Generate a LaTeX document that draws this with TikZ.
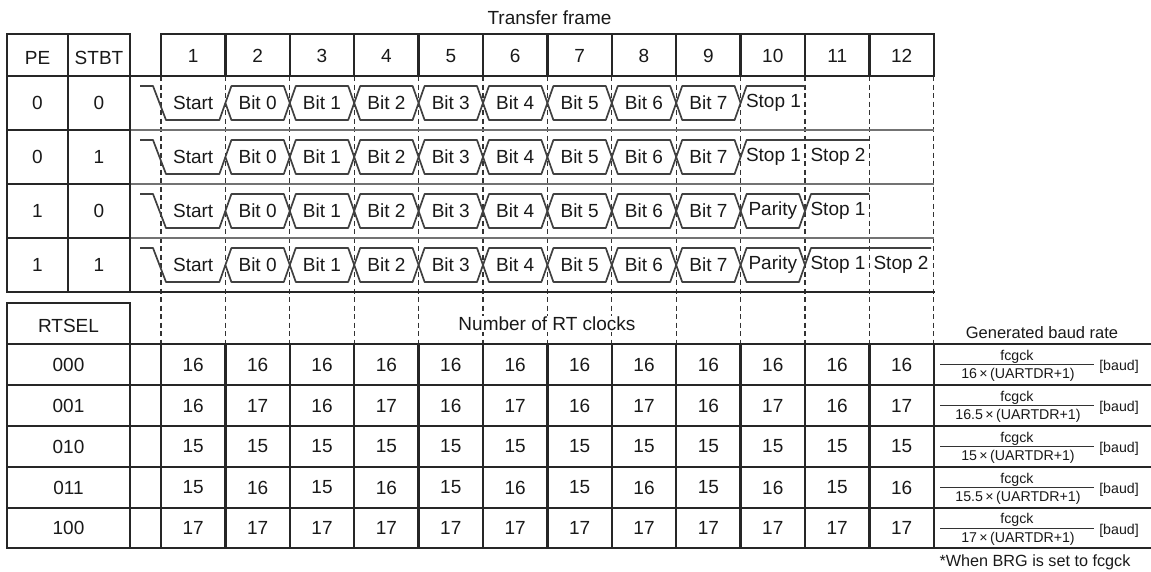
\documentclass[tikz,border=0pt]{standalone}
\usepackage{fontspec}
\setmainfont{Liberation Sans}
\begin{document}
\begin{tikzpicture}[x=1pt,y=-1pt,
  tline/.style={line width=2.3pt, draw=black!85, line cap=rect},
  sepline/.style={line width=1.2pt, draw=black!55},
  wave/.style={line width=1.7pt, draw=black!75, line join=round},
  dline/.style={line width=1.1pt, draw=black!80, dash pattern=on 5pt off 3.5pt},
  txt/.style={font=\fontsize{19}{21}\selectfont, text=black!90, inner sep=0pt},
  small/.style={font=\fontsize{14.2}{16}\selectfont, text=black!90, inner sep=0pt},
  fracrule/.style={line width=0.9pt, draw=black!80},
]
\useasboundingbox (0,0) rectangle (1151,571);

% dashed column guides
\foreach \k in {0,...,12} \draw[dline] ({161+64.4*\k},76) -- ({161+64.4*\k},344);
% thin row separators in the waveform area
\foreach \y in {130,184,238} \draw[sepline] (130,\y) -- (934,\y);

% PE / STBT table
\draw[tline] (7,34) rectangle (130,292);
\draw[tline] (68,34) -- (68,292);
\foreach \y in {76,130,184,238} \draw[tline] (7,\y) -- (130,\y);
\draw[tline] (130,76) -- (161,76);
\draw[tline] (130,292) -- (934,292);
% frame header
\draw[tline] (161,34) rectangle (934,76);
\foreach \k in {1,...,11} \draw[tline] ({161+64.4*\k},34) -- ({161+64.4*\k},76);

% header texts
\node[txt] (title) at (549.5,18) {Transfer frame};
\node[txt] (hPE) at (37.5,58) {PE};
\node[txt] (hST) at (99,58) {STBT};
\foreach \k in {1,...,12} \node[txt] (h\k) at ({161+64.4*(\k-0.5)},56) {\k};

% PE / STBT values
\foreach \r/\cy/\p/\s in {1/103/0/0, 2/157/0/1, 3/211/1/0, 4/265/1/1} {
  \node[txt] (pe\r) at (37.5,\cy) {\p};
  \node[txt] (st\r) at (99,\cy) {\s};
}

% waveforms: start + 8 data bits
\foreach \r/\cy in {1/103,2/157,3/211,4/265} {
  \draw[wave] (140,{\cy-17}) -- (153,{\cy-17}) -- (166,{\cy+17}) -- (219.4,{\cy+17}) -- (225.4,\cy);
  \node[txt] (start\r) at (193.2,\cy) {Start};
  \foreach \b in {0,...,7} {
    \pgfmathsetmacro\xl{161+64.4*(\b+1)}
    \pgfmathsetmacro\xr{\xl+64.4}
    \draw[wave] (\xl,\cy) -- ({\xl+6},{\cy-17}) -- ({\xr-6},{\cy-17}) -- (\xr,\cy) -- ({\xr-6},{\cy+17}) -- ({\xl+6},{\cy+17}) -- cycle;
    \node[txt] (bit\r-\b) at ({\xl+32.2},\cy) {Bit \b};
  }
}
% row 1 tail
\draw[wave] (740.6,103) -- (746.6,86) -- (805,86);
\node[txt] (r1stop1) at (773.5,103) {Stop 1};
% row 2 tail
\draw[wave] (740.6,157) -- (746.6,140) -- (869.4,140);
\node[txt] (r2stop1) at (773.5,157) {Stop 1};
\node[txt] (r2stop2) at (838,157) {Stop 2};
% row 3 tail
\draw[wave] (740.6,211) -- (746.6,194) -- (799,194) -- (805,211) -- (799,228) -- (746.6,228) -- cycle;
\node[txt] (r3par) at (772.8,211) {Parity};
\draw[wave] (805,211) -- (811,194) -- (869.4,194);
\node[txt] (r3stop1) at (838,211) {Stop 1};
% row 4 tail
\draw[wave] (740.6,265) -- (746.6,248) -- (799,248) -- (805,265) -- (799,282) -- (746.6,282) -- cycle;
\node[txt] (r4par) at (772.8,265) {Parity};
\draw[wave] (805,265) -- (811,248) -- (931,248);
\node[txt] (r4stop1) at (838,265) {Stop 1};
\node[txt] (r4stop2) at (901,265) {Stop 2};

% RT clocks table
\draw[tline] (7,303) -- (130,303);
\foreach \y in {344,385,426,467,508,548} \draw[tline] (7,\y) -- (1151,\y);
\draw[tline] (7,303) -- (7,548);
\draw[tline] (130,303) -- (130,548);
\draw[tline] (161,344) -- (161,548);
\foreach \k in {1,...,12} \draw[tline] ({161+64.4*\k},344) -- ({161+64.4*\k},548);

\node[txt] (rtsel) at (68.5,326) {RTSEL};
\node[txt, fill=white, inner sep=1pt] (nrt) at (547,324) {Number of RT clocks};
\node[font=\fontsize{16.5}{18}\selectfont, text=black!90, inner sep=0pt, anchor=base] (gbr) at (1042,338.5) {Generated baud rate};

\foreach \r/\cy/\nm/\va/\vb/\den in {1/364.5/000/16/16/16, 2/405.5/001/16/17/16.5, 3/446.5/010/15/15/15, 4/487.5/011/15/16/15.5, 5/528/100/17/17/17} {
  \node[txt] (rt\r) at (68.5,\cy) {\nm};
  \foreach \k in {1,...,12} {
    \ifodd\k \def\myval{\va}\else\def\myval{\vb}\fi
    \node[txt] (v\r-\k) at ({161+64.4*(\k-0.5)},\cy) {\myval};
  }
  \node[small] (fn\r) at (1017,{\cy-8}) {fcgck};
  \node[small] (fd\r) at (1018,{\cy+10.5}) {\den\,×\,(UARTDR+1)};
  \draw[fracrule] (940,\cy) -- (1094,\cy);
  \node[small] (fb\r) at (1119,{\cy+2.5}) {[baud]};
}

\node[font=\fontsize{16.2}{18}\selectfont, text=black!90, inner sep=0pt, anchor=base] (note) at (1035,566.5) {*When BRG is set to fcgck};
\end{tikzpicture}
\end{document}
